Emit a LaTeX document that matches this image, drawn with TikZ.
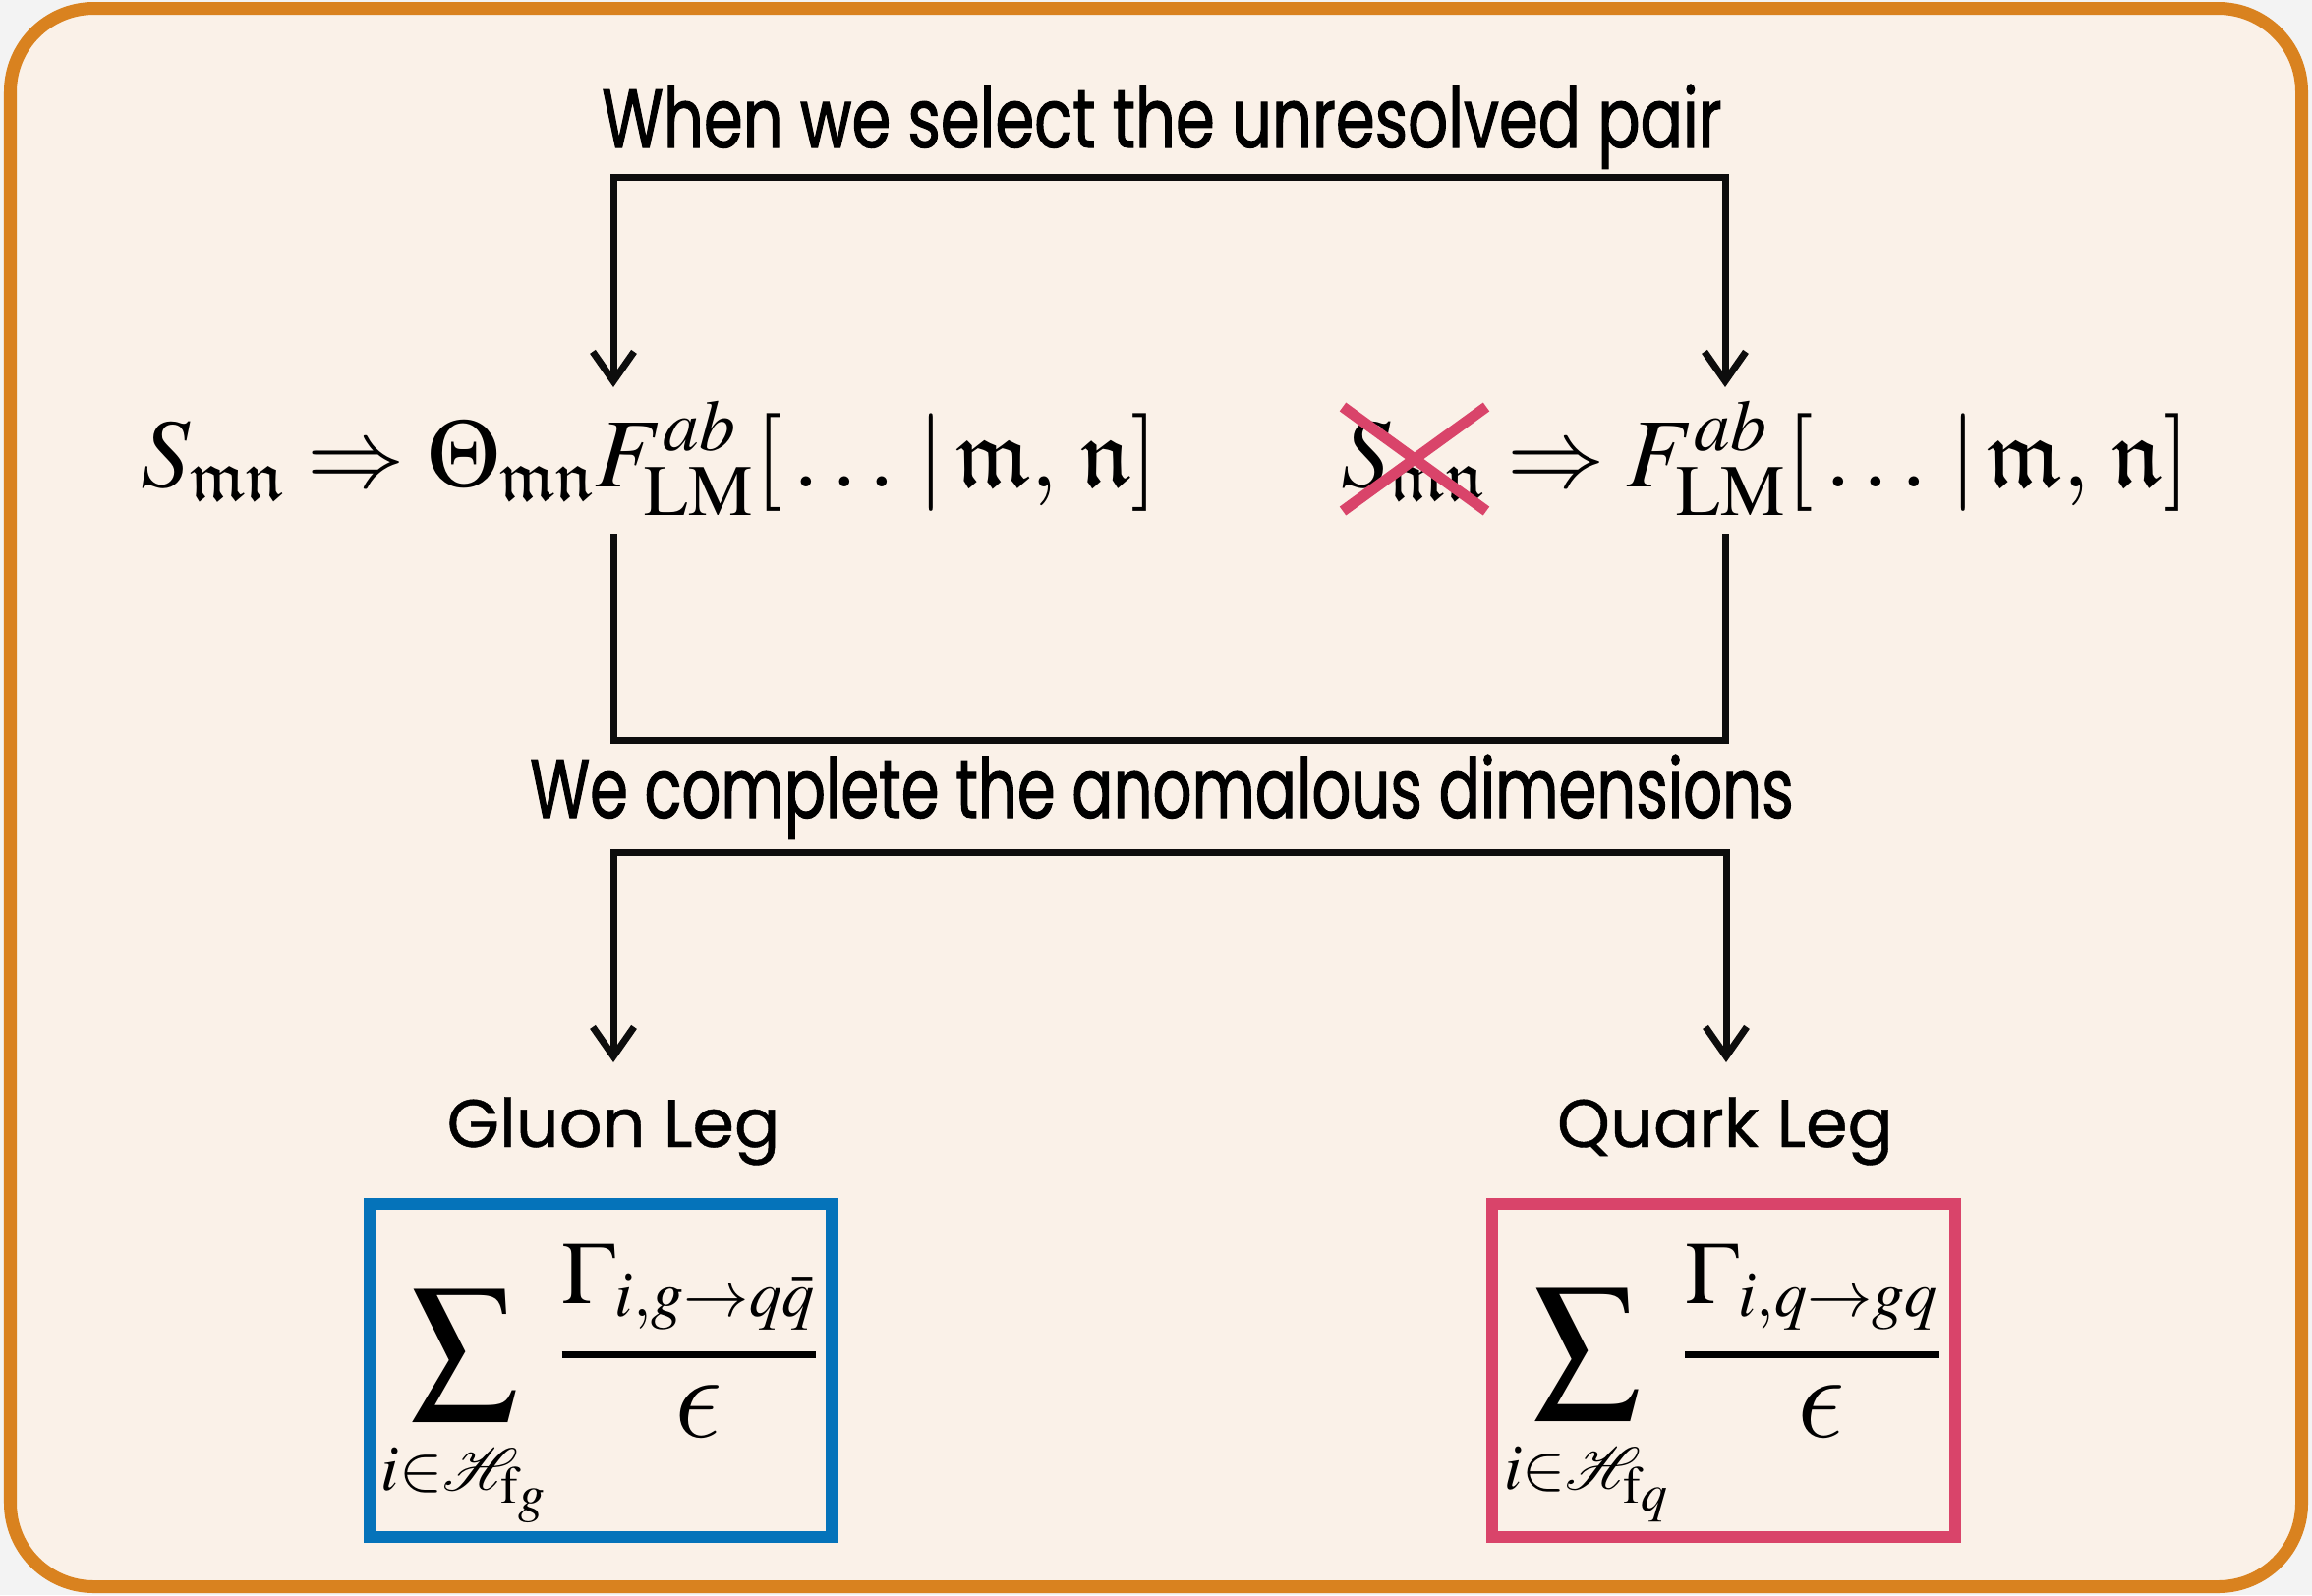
\documentclass[tikz,border=0pt]{standalone}
\usepackage{amsmath,amssymb}
\usepackage{mathptmx}
\usepackage{mathrsfs}
\usepackage[no-math]{fontspec}
\usetikzlibrary{arrows.meta}
\DeclareSymbolFont{cmletters}{OML}{cmm}{m}{it}
\DeclareMathSymbol{\lunateeps}{\mathord}{cmletters}{"0F}
\newfontfamily\legfont[FakeBold=0.6]{Poppins}
\newfontfamily\condfont[FakeStretch=0.76,FakeBold=1.2]{Poppins}
\newfontfamily\condfontb[FakeStretch=0.74,FakeBold=1.2]{Poppins}
\newcommand{\bigsumsym}{\mathop{\vcenter{\hbox{\scalebox{1.2}{$\displaystyle\sum$}}}}\limits}
\newcommand{\bigeps}{\kern5.5pt\scalebox{1.4}{$\lunateeps$}}
\newcommand{\lowered}[1]{\raisebox{-5pt}[\height][\depth]{#1}}
\definecolor{bgcol}{HTML}{FAF1E8}
\definecolor{pagecol}{HTML}{F3F3F3}
\definecolor{framecol}{HTML}{D9821F}
\definecolor{gluoncol}{HTML}{0573BA}
\definecolor{quarkcol}{HTML}{D9446A}
\begin{document}
\begin{tikzpicture}[x=0.01cm,y=-0.01cm,
  conn/.style={line width=0.07cm, draw=black!95,
    arrows={Straight Barb[length=0.3cm,width=0.42cm,line width=0.07cm]-Straight Barb[length=0.3cm,width=0.42cm,line width=0.07cm]}},
  plainline/.style={line width=0.07cm, draw=black!95},
  caption/.style={font=\condfont\fontsize{24}{28}\selectfont, anchor=base, inner sep=0pt},
  captionb/.style={font=\condfontb\fontsize{24}{28}\selectfont, anchor=base, inner sep=0pt},
  leglabel/.style={font=\legfont\fontsize{19.5}{24}\selectfont, anchor=base, inner sep=0pt},
  formula/.style={font=\fontsize{28.3}{34}\selectfont, anchor=base, inner sep=0pt},
  sumbox/.style={line width=0.12cm, fill=bgcol, minimum width=4.70cm, minimum height=3.38cm, inner sep=0pt, font=\fontsize{25.5}{30}\selectfont},
  cross/.style={line width=0.11cm, draw=quarkcol}
]
% page and frame
\fill[pagecol] (0,0) rectangle (2352,1623);
\useasboundingbox (0,0) rectangle (2352,1623);
\draw[draw=framecol, fill=bgcol, line width=0.13cm, rounded corners=0.85cm] (10.5,8.5) rectangle (2341.5,1614.5);

% captions
\node[caption] (top) at (1182,150) {When we select the unresolved pair};
\node[captionb] (mid) at (1182,832) {We complete the anomalous dimensions};

% formulas
\node[formula] (fl) at (661,495) {$S_{\mathfrak{mn}} \Rightarrow \Theta_{\mathfrak{mn}} F^{ab}_{\mathrm{LM}}[\,\dots\,|\,\mathfrak{m},\,\mathfrak{n}]$};
\node[formula] (fr) at (1796,495) {$S_{\mathfrak{mn}} \Rightarrow F^{ab}_{\mathrm{LM}}[\,\dots\,|\,\mathfrak{m},\,\mathfrak{n}]$};

% cross over S_mn
\coordinate (x1) at (1366,414);
\coordinate (x2) at (1512,520);
\coordinate (x3) at (1366,520);
\coordinate (x4) at (1512,414);
\draw[cross] (x1) -- (x2);
\draw[cross] (x3) -- (x4);

% top bracket
\coordinate (t1) at (624,180);
\coordinate (t2) at (1755,180);
\coordinate (t1e) at (624,394);
\coordinate (t2e) at (1755,394);
\draw[conn] (t1e) -- (t1) -- (t2) -- (t2e);

% lower bracket (no arrows)
\coordinate (b1s) at (624,543);
\coordinate (b2s) at (1755,543);
\coordinate (b1) at (624,753);
\coordinate (b2) at (1755,753);
\draw[plainline] (b1s) -- (b1) -- (b2) -- (b2s);

% second bracket
\coordinate (c1) at (624,867);
\coordinate (c2) at (1756,867);
\coordinate (c1e) at (624,1081);
\coordinate (c2e) at (1756,1081);
\draw[conn] (c1e) -- (c1) -- (c2) -- (c2e);

% legs
\node[leglabel] (gl) at (624,1167) {Gluon Leg};
\node[leglabel] (ql) at (1755,1167) {Quark Leg};

\node[sumbox, draw=gluoncol] (gbox) at (611,1394.5) {\lowered{$\displaystyle\bigsumsym_{\rule{0pt}{16pt}i\in\mathscr{H}_{\mathrm{f}_g}}\genfrac{}{}{2pt}{}{\Gamma_{i,g\to q\bar q}}{\bigeps}$}};
\node[sumbox, draw=quarkcol] (qbox) at (1753.5,1394.5) {\lowered{$\displaystyle\bigsumsym_{\rule{0pt}{16pt}i\in\mathscr{H}_{\mathrm{f}_q}}\genfrac{}{}{2pt}{}{\Gamma_{i,q\to gq}}{\bigeps}$}};
\end{tikzpicture}
\end{document}
